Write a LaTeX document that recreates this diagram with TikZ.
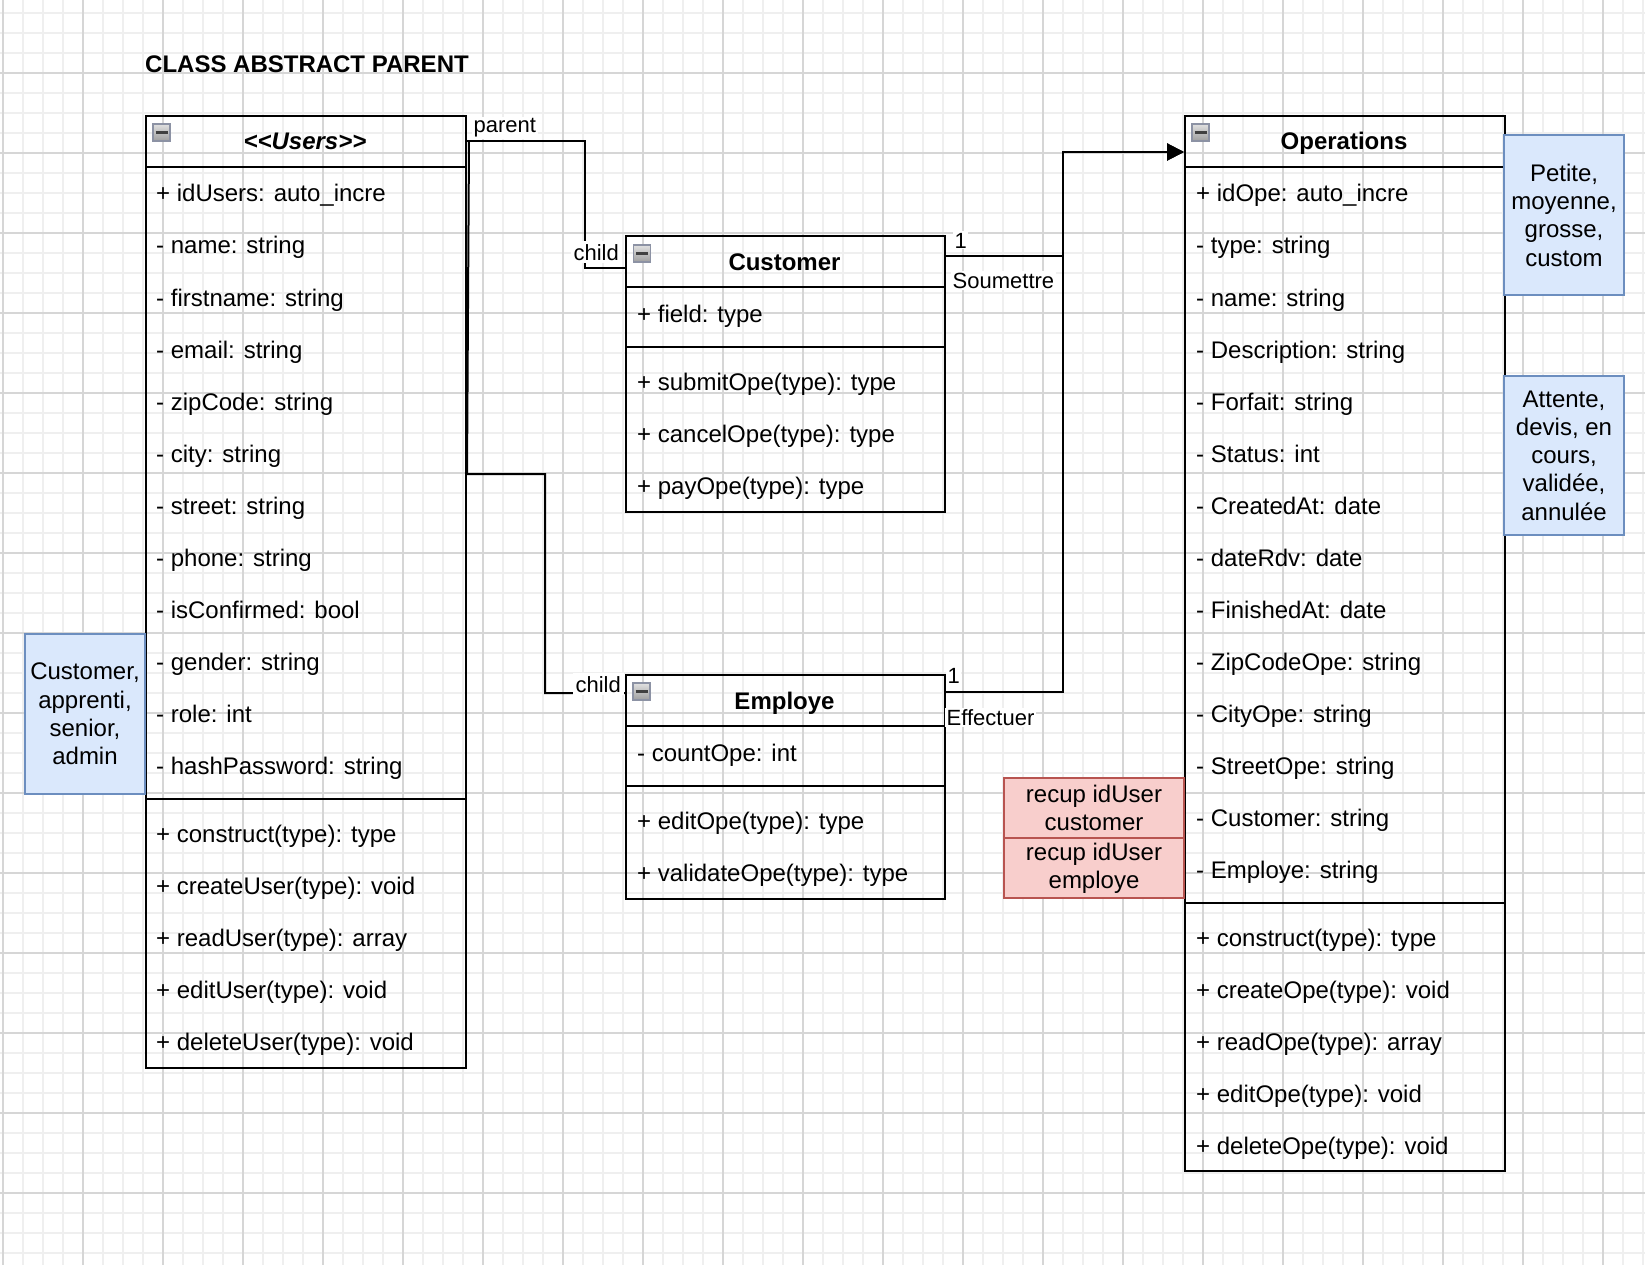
\documentclass[tikz,border=0pt]{standalone}
\usepackage{fontspec}
\setmainfont{Liberation Sans}
\usetikzlibrary{arrows.meta,calc}
\definecolor{bluefill}{HTML}{DAE8FC}
\definecolor{blueline}{HTML}{6C8EBF}
\definecolor{redfill}{HTML}{F8CECC}
\definecolor{redline}{HTML}{B85450}
\definecolor{gridminor}{HTML}{EFEFEF}
\definecolor{gridmajor}{HTML}{D6D6D6}
\definecolor{iconline}{HTML}{8C92A4}
\newcommand\bodyfont{\fontsize{24}{28.3}\selectfont}
\newcommand\lblfont{\fontsize{22}{26}\selectfont}
\tikzset{
  classbox/.style={draw=black, line width=2pt, inner sep=0pt, anchor=north west},
  sepline/.style={line width=2pt},
  attr/.style={anchor=base west, inner sep=0pt, font=\bodyfont},
  head/.style={anchor=base, inner sep=0pt, font=\bodyfont\bfseries},
  bluenote/.style={draw=blueline, fill=bluefill, line width=2pt, inner sep=0pt, align=center, font=\bodyfont},
  rednote/.style={draw=redline, fill=redfill, line width=2pt, inner sep=0pt, align=center, font=\bodyfont, minimum width=180, minimum height=60},
  lbl/.style={fill=white, inner sep=1.5pt, font=\lblfont},
  childlbl/.style={fill=white, inner sep=3pt, font=\lblfont, anchor=base east},
  conn/.style={line width=2pt},
  arr/.style={-{Triangle[length=17pt,width=17pt]}},
  minusicon/.style={draw=iconline, line width=1.2pt, top color=black!12, bottom color=black!38, minimum size=17pt, inner sep=0pt}
}
\newcommand\minusico[2]{%
  \node[minusicon] (#1) at (#2) {};
  \draw[line width=2.2pt, black!75] ($(#1.center)+(-6,0)$) -- ($(#1.center)+(6,0)$);
}
\begin{document}
\begin{tikzpicture}[x=1pt,y=-1pt]
\useasboundingbox (0,0) rectangle (1645,1265);
\fill[white] (0,0) rectangle (1645,1265);
% grid
\foreach \i in {0,...,82} { \draw[gridminor, line width=1.5pt] (3+20*\i,0) -- (3+20*\i,1265); }
\foreach \j in {0,...,62} { \draw[gridminor, line width=1.5pt] (0,13+20*\j) -- (1645,13+20*\j); }
\foreach \i in {0,...,20} { \draw[gridmajor, line width=1.5pt] (3+80*\i,0) -- (3+80*\i,1265); }
\foreach \j in {0,...,14} { \draw[gridmajor, line width=1.5pt] (0,73+80*\j) -- (1645,73+80*\j); }

% title
\node[anchor=base west, inner sep=0pt, font=\bodyfont\bfseries] (title) at (145,73) {CLASS ABSTRACT PARENT};

% ---- Users
\node[classbox, minimum width=320, minimum height=952] (users) at (145,115) {};
\draw[sepline] (users.west |- 0,167) -- (users.east |- 0,167);
\draw[sepline] (users.west |- 0,799) -- (users.east |- 0,799);
\node[head, font=\bodyfont\bfseries\itshape] (usersT) at (305,150) {<\kern0pt<Users>\kern0pt>};
\minusico{usersM}{161.5,132.5}
\foreach \t [count=\k from 0] in {+ idUsers: auto\_incre, - name: string, - firstname: string, - email: string, - zipCode: string, - city: string, - street: string, - phone: string, - isConfirmed: bool, - gender: string, - role: int, - hashPassword: string}
  { \node[attr] (ua\k) at (156,202+52*\k) {\t}; }
\foreach \t [count=\k from 0] in {+ construct(type): type, + createUser(type): void, + readUser(type): array, + editUser(type): void, + deleteUser(type): void}
  { \node[attr] (um\k) at (156,842+52*\k) {\t}; }

% ---- Customer
\node[classbox, minimum width=319, minimum height=276] (cust) at (625,235) {};
\draw[sepline] (cust.west |- 0,287) -- (cust.east |- 0,287);
\draw[sepline] (cust.west |- 0,347) -- (cust.east |- 0,347);
\node[head] (custT) at (784.5,270) {Customer};
\minusico{custM}{642,253.5}
\node[attr] (ca0) at (637,322) {+ field: type};
\foreach \t [count=\k from 0] in {+ submitOpe(type): type, + cancelOpe(type): type, + payOpe(type): type}
  { \node[attr] (cm\k) at (637,390+52*\k) {\t}; }

% ---- Employe
\node[classbox, minimum width=319, minimum height=224] (emp) at (625,674) {};
\draw[sepline] (emp.west |- 0,726) -- (emp.east |- 0,726);
\draw[sepline] (emp.west |- 0,786) -- (emp.east |- 0,786);
\node[head] (empT) at (784.5,709) {Employe};
\minusico{empM}{641.5,691.5}
\node[attr] (ea0) at (637,761) {- countOpe: int};
\foreach \t [count=\k from 0] in {+ editOpe(type): type, + validateOpe(type): type}
  { \node[attr] (em\k) at (637,829+52*\k) {\t}; }

% ---- Operations
\node[classbox, minimum width=320, minimum height=1055] (ops) at (1184,115) {};
\draw[sepline] (ops.west |- 0,167) -- (ops.east |- 0,167);
\draw[sepline] (ops.west |- 0,903) -- (ops.east |- 0,903);
\node[head] (opsT) at (1344,150) {Operations};
\minusico{opsM}{1200.5,132.5}
\foreach \t [count=\k from 0] in {+ idOpe: auto\_incre, - type: string, - name: string, - Description: string, - Forfait: string, - Status: int, - CreatedAt: date, - dateRdv: date, - FinishedAt: date, - ZipCodeOpe: string, - CityOpe: string, - StreetOpe: string, - Customer: string, - Employe: string}
  { \node[attr] (oa\k) at (1196,202+52*\k) {\t}; }
\foreach \t [count=\k from 0] in {+ construct(type): type, + createOpe(type): void, + readOpe(type): array, + editOpe(type): void, + deleteOpe(type): void}
  { \node[attr] (om\k) at (1196,946+52*\k) {\t}; }

% ---- notes
\node[bluenote, minimum width=120, minimum height=160] (nroles) at (85,714) {Customer,\\apprenti,\\senior,\\admin};
\node[bluenote, minimum width=120, minimum height=160] (nforfait) at (1564,215) {Petite,\\moyenne,\\grosse,\\custom};
\node[bluenote, minimum width=120, minimum height=159] (nstatus) at (1564,455.5) {Attente,\\devis, en\\cours,\\validée,\\annulée};
\node[rednote] (rcust) at (1094,808) {recup idUser\\customer};
\node[rednote] (remp) at (1094,868) {recup idUser\\employe};

% ---- connectors
\draw[conn] (users.east |- 0,141) -| (585,268) -- (cust.west |- 0,268);
\draw[conn] ($(users.east |- 0,141)+(2,0)$) -- (467,474) -| (545,693) -- (emp.west |- 0,693);
\draw[conn, arr] (cust.east |- 0,256) -| (1063,152) -- (ops.west |- 0,152);
\draw[conn, arr] (emp.east |- 0,692) -| (1063,152) -- (ops.west |- 0,152);

% ---- labels
\node[lbl, anchor=base west] (lparent) at (472,133) {parent};
\node[childlbl] (lchild1) at (622,260) {child};
\node[childlbl] (lchild2) at (624,692) {child};
\node[lbl, anchor=base west] (lone1) at (953,248) {1};
\node[lbl, anchor=base west] (lsoum) at (951,288) {Soumettre};
\node[lbl, anchor=base west] (lone2) at (946,683) {1};
\node[lbl, anchor=base west] (leff) at (945,725) {Effectuer};
\end{tikzpicture}
\end{document}
